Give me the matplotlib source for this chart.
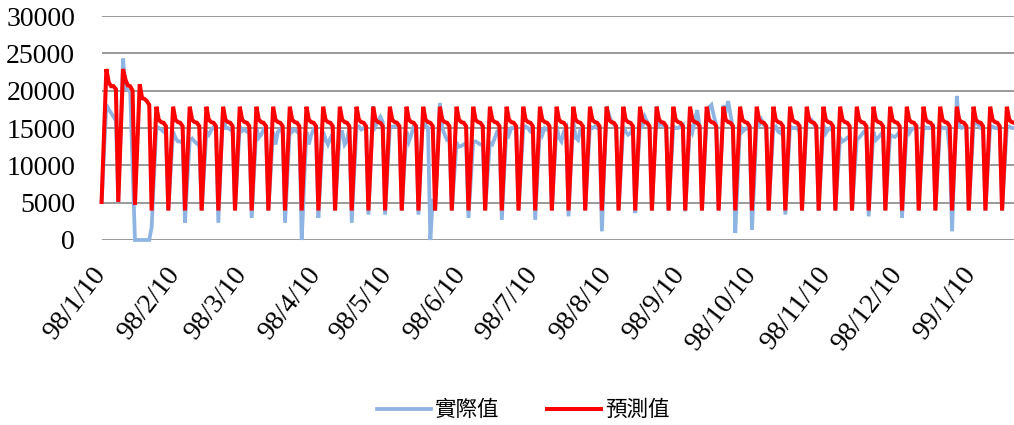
import numpy as np
import pandas as pd
import matplotlib
matplotlib.use("Agg")
import matplotlib.pyplot as plt

# daily series starting 98/1/10 (ROC calendar = 2009-01-10)
start_date = "2009-01-10"
n_days = 384

# 預測值: first three weeks read individually, then the same weekly profile repeats
red_first = [5100, 14000, 22900, 21100, 20600, 20600, 20200,
             5100, 14000, 22900, 21500, 20700, 20600, 20000,
             4700, 12800, 20860, 19000, 18900, 18600, 18100]
red_week = [3950, 10900, 17850, 16100, 15800, 15700, 15250]

# 實際值, one row per week (dip day first)
blue_weeks = [
    [5100, 11600, 18100, 17500, 17000, 16500, 16000],
    [5100, 14700, 24300, 20300, 20100, 19900, 10000],
    [0, 0, 0, 0, 0, 0, 0],
    [1700, 8500, 15200, 15000, 14800, 14500, 14300],
    [3950, 9200, 14500, 13700, 13200, 13200, 13000],
    [2300, 8000, 13400, 13600, 13200, 12900, 12700],
    [3950, 9000, 14500, 14100, 14700, 15100, 15000],
    [2300, 10000, 17700, 15000, 15000, 14800, 14600],
    [3950, 9500, 15200, 14600, 14800, 14500, 14300],
    [2950, 9000, 15000, 13700, 14100, 14800, 14500],
    [3950, 9200, 14500, 12800, 14500, 14800, 14500],
    [2300, 8800, 15000, 14500, 14800, 14500, 14300],
    [0, 7500, 14500, 12800, 14100, 14800, 14500],
    [2950, 9000, 14500, 13500, 12800, 13600, 14200],
    [3950, 9200, 14500, 14500, 12800, 13300, 15000],
    [2300, 8800, 15000, 15200, 14800, 15000, 15000],
    [3400, 10500, 17900, 15300, 16000, 16500, 15800],
    [3400, 9200, 15000, 15200, 15200, 15300, 15000],
    [3950, 9200, 14500, 13200, 14100, 15200, 15200],
    [3400, 10300, 17200, 15400, 15000, 0, 5500],
    [3900, 11000, 18350, 15000, 14100, 13400, 13400],
    [3950, 8500, 13000, 12500, 12600, 12800, 13000],
    [2950, 8000, 13200, 13200, 13000, 12800, 12800],
    [3950, 8500, 13000, 12800, 13600, 14500, 14800],
    [2700, 8800, 15000, 14100, 15000, 15000, 15000],
    [3950, 9400, 14800, 15200, 15000, 14500, 14500],
    [2700, 8800, 15000, 14100, 15000, 14800, 14800],
    [3950, 9500, 15200, 13700, 13200, 14500, 15000],
    [3170, 10000, 16000, 13700, 13400, 14800, 15000],
    [3950, 9600, 15200, 15000, 15200, 15000, 15000],
    [1160, 9500, 17900, 16800, 15900, 15500, 15000],
    [3950, 9600, 15200, 14500, 14100, 14300, 15000],
    [3600, 10000, 15400, 15200, 16500, 15800, 15000],
    [3950, 11000, 17900, 15400, 15600, 15200, 15000],
    [3950, 9600, 15200, 15000, 15000, 15200, 15400],
    [3840, 9600, 15400, 14500, 16000, 17400, 15200],
    [3950, 10000, 16300, 17800, 18100, 16600, 15400],
    [3950, 11000, 18000, 17200, 18600, 16800, 15000],
    [940, 8000, 15400, 14500, 14800, 15000, 15000],
    [1380, 8000, 15900, 15400, 16100, 15400, 15000],
    [3950, 9500, 15000, 15200, 14500, 14300, 15000],
    [3400, 9300, 15200, 15000, 15000, 15000, 14500],
    [3950, 10000, 15800, 16300, 16100, 15500, 15000],
    [3950, 9500, 15400, 14300, 14800, 15000, 14500],
    [3950, 8800, 13700, 13200, 13400, 13700, 13900],
    [3950, 8700, 13400, 13700, 14100, 14500, 14800],
    [3170, 8800, 14500, 13400, 13700, 14100, 14500],
    [3950, 9000, 14100, 13900, 13800, 14100, 14500],
    [2950, 9000, 15000, 14300, 14800, 15000, 15200],
    [3950, 9600, 15200, 15000, 15000, 15000, 15200],
    [3950, 9600, 15200, 15000, 15000, 15000, 12000],
    [1160, 10000, 19300, 15300, 15000, 15200, 15000],
    [3950, 9500, 15200, 16100, 15400, 15000, 15000],
    [3950, 9500, 15200, 15200, 15000, 15000, 15000],
    [3950, 9500, 15000, 15200, 15000, 15000],
]

tick_dates = pd.date_range("2009-01-01", "2010-01-01", freq="MS") + pd.Timedelta(days=9)
tick_labels = [f"{d.year - 1911}/{d.month}/{d.day}" for d in tick_dates]
y_ticks = [0, 5000, 10000, 15000, 20000, 25000, 30000]

dates = pd.date_range(start_date, periods=n_days, freq="D")
actual = [v for wk in blue_weeks for v in wk]
n_rest = n_days - len(red_first)
pred = red_first + (red_week * (n_rest // 7 + 1))[:n_rest]

fig = plt.figure(figsize=(10.14, 4.25), dpi=100)
ax = fig.add_axes([0.1002, 0.4353, 0.8998, 0.527])

ax.plot(dates, actual, color="#8DB4E2", lw=2.7, label="實際值", clip_on=False,
        solid_joinstyle="miter", zorder=3)
ax.plot(dates, pred, color="#FF0000", lw=2.9, label="預測值", clip_on=False,
        solid_joinstyle="miter", zorder=4)

ax.set_xlim(dates[0], dates[-1])
ax.set_ylim(0, 30000)
ax.set_yticks(y_ticks)
ax.set_yticklabels([str(v) for v in y_ticks], fontfamily="Liberation Serif", fontsize=20)
ax.set_xticks(tick_dates)
ax.set_xticklabels(tick_labels, fontfamily="Liberation Serif", fontsize=20,
                   rotation=52, ha="right", va="center", rotation_mode="anchor")
ax.tick_params(axis="both", length=0)
ax.tick_params(axis="y", pad=19)
ax.tick_params(axis="x", pad=22)
ax.grid(axis="y", color="#898989", lw=1.2)
ax.set_axisbelow(True)
for s in ax.spines.values():
    s.set_visible(False)

fig.legend(loc="center", bbox_to_anchor=(0.516, 0.035), ncol=2, frameon=False,
           prop={"family": ["Noto Sans CJK TC", "DejaVu Sans"], "size": 15.5},
           handlelength=2.5, columnspacing=2.2, handletextpad=0.2)

fig.savefig("out.png", dpi=100)
